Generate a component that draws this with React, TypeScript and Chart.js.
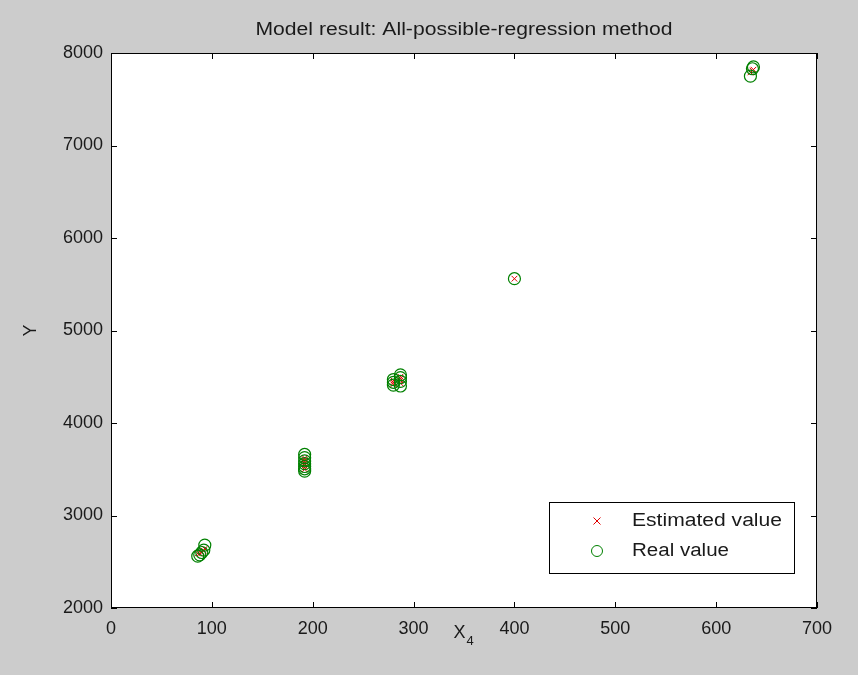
import React, { useEffect, useRef } from "react";
import { Chart, registerables } from "chart.js";

Chart.register(...registerables);

const TITLE = "Model result: All-possible-regression method";
const X_LABEL = "X";
const X_SUB = "4";
const Y_LABEL = "Y";
const LEGEND_LABELS = ["Estimated value", "Real value"];

const X_TICKS = [0, 100, 200, 300, 400, 500, 600, 700];
const Y_TICKS = [2000, 3000, 4000, 5000, 6000, 7000, 8000];

const realX = [86, 88, 90, 92, 93, 192, 192, 192, 192, 192, 192, 192, 280, 280, 280, 287, 287, 287, 287, 400, 634, 636, 637];
const realY = [2560, 2575, 2600, 2625, 2680, 3480, 3505, 3530, 3560, 3590, 3625, 3660, 4410, 4440, 4470, 4400, 4450, 4490, 4520, 5560, 7750, 7830, 7850];
const estX = [86, 88, 90, 92, 93, 192, 192, 192, 192, 192, 192, 192, 280, 280, 280, 287, 287, 287, 287, 400, 634, 636, 637];
const estY = [2590, 2590, 2600, 2620, 2640, 3500, 3520, 3540, 3560, 3580, 3600, 3620, 4420, 4440, 4460, 4430, 4460, 4480, 4500, 5560, 7790, 7810, 7820];

const FONT = "'Liberation Sans', Arial, sans-serif";
const BG = "#cccccc";
const TEXT = "#1a1a1a";

function fillFit(ctx: CanvasRenderingContext2D, text: string, x: number, y: number, target: number, align: "left" | "center") {
  const w = ctx.measureText(text).width;
  const sx = target / w;
  ctx.save();
  ctx.textAlign = "left";
  const left = align === "center" ? x - target / 2 : x;
  ctx.translate(left, y);
  ctx.scale(sx, 1);
  ctx.fillText(text, 0, 0);
  ctx.restore();
}

const overlay = {
  id: "matlabOverlay",
  beforeDraw(chart: any) {
    const { ctx, chartArea: a } = chart;
    ctx.save();
    ctx.fillStyle = BG;
    ctx.fillRect(0, 0, chart.width, chart.height);
    ctx.fillStyle = "#ffffff";
    ctx.fillRect(a.left, a.top, a.right - a.left, a.bottom - a.top);
    ctx.restore();
  },
  afterDraw(chart: any) {
    const { ctx, chartArea: a, scales } = chart;
    ctx.save();
    ctx.strokeStyle = "#000";
    ctx.lineWidth = 1;
    ctx.strokeRect(a.left + 0.5, a.top + 0.5, a.right - a.left - 1, a.bottom - a.top - 1);
    const tl = 6;
    ctx.beginPath();
    X_TICKS.forEach((v) => {
      const px = Math.round(scales.x.getPixelForValue(v)) + 0.5;
      ctx.moveTo(px, a.bottom);
      ctx.lineTo(px, a.bottom - tl);
      ctx.moveTo(px, a.top);
      ctx.lineTo(px, a.top + tl);
    });
    Y_TICKS.forEach((v) => {
      const py = Math.round(scales.y.getPixelForValue(v)) + 0.5;
      ctx.moveTo(a.left, py);
      ctx.lineTo(a.left + tl, py);
      ctx.moveTo(a.right, py);
      ctx.lineTo(a.right - tl, py);
    });
    ctx.stroke();

    // title
    ctx.fillStyle = TEXT;
    ctx.font = `18px ${FONT}`;
    ctx.textBaseline = "middle";
    fillFit(ctx, TITLE, (a.left + a.right) / 2, 30, 417, "center");

    // x label with subscript
    const cx = 463;
    ctx.font = `18px ${FONT}`;
    const wX = ctx.measureText(X_LABEL).width;
    ctx.font = `13px ${FONT}`;
    const wS = ctx.measureText(X_SUB).width;
    const start = cx - (wX + wS) / 2;
    ctx.textAlign = "left";
    ctx.font = `18px ${FONT}`;
    ctx.fillText(X_LABEL, start, 633);
    ctx.font = `13px ${FONT}`;
    ctx.fillText(X_SUB, start + wX + 1, 641);

    // y label
    ctx.save();
    ctx.translate(31, (a.top + a.bottom) / 2);
    ctx.rotate(-Math.PI / 2);
    ctx.textAlign = "center";
    ctx.font = `18px ${FONT}`;
    ctx.fillText(Y_LABEL, 0, 0);
    ctx.restore();

    // legend
    const lx = 549, ly = 502, lw = 245, lh = 71;
    ctx.fillStyle = "#fff";
    ctx.fillRect(lx, ly, lw, lh);
    ctx.strokeStyle = "#000";
    ctx.lineWidth = 1;
    ctx.strokeRect(lx + 0.5, ly + 0.5, lw, lh);
    const mx = 597;
    const y1 = 521, y2 = 551;
    ctx.strokeStyle = "#e00000";
    ctx.beginPath();
    ctx.moveTo(mx - 3.5, y1 - 3.5);
    ctx.lineTo(mx + 3.5, y1 + 3.5);
    ctx.moveTo(mx + 3.5, y1 - 3.5);
    ctx.lineTo(mx - 3.5, y1 + 3.5);
    ctx.stroke();
    ctx.strokeStyle = "#008000";
    ctx.beginPath();
    ctx.arc(mx, y2, 5.5, 0, Math.PI * 2);
    ctx.stroke();
    ctx.fillStyle = TEXT;
    ctx.font = `18px ${FONT}`;
    ctx.textBaseline = "middle";
    fillFit(ctx, LEGEND_LABELS[0], 632, y1, 150, "left");
    fillFit(ctx, LEGEND_LABELS[1], 632, y2, 97, "left");
    ctx.restore();
  },
};

export default function App() {
  const ref = useRef<HTMLCanvasElement | null>(null);
  useEffect(() => {
    if (!ref.current) return;
    const chart = new Chart(ref.current, {
      type: "scatter",
      data: {
        datasets: [
          {
            label: LEGEND_LABELS[1],
            data: realX.map((x, i) => ({ x, y: realY[i] })),
            pointStyle: "circle",
            pointRadius: 6,
            borderColor: "#008000",
            backgroundColor: "rgba(0,0,0,0)",
            borderWidth: 1.2,
          },
          {
            label: LEGEND_LABELS[0],
            data: estX.map((x, i) => ({ x, y: estY[i] })),
            pointStyle: "crossRot",
            pointRadius: 4,
            borderColor: "#e00000",
            backgroundColor: "#e00000",
            borderWidth: 1,
          },
        ],
      },
      options: {
        responsive: false,
        animation: false,
        layout: { padding: { left: 0, top: 53, right: 41, bottom: 0 } },
        plugins: { legend: { display: false }, title: { display: false }, tooltip: { enabled: false } },
        scales: {
          x: {
            type: "linear",
            min: 0,
            max: 700,
            afterFit: (s: any) => { s.height = 67; },
            afterBuildTicks: (s: any) => { s.ticks = X_TICKS.map((v) => ({ value: v })); },
            grid: { display: false, drawTicks: false },
            border: { display: false },
            ticks: { color: TEXT, font: { size: 18, family: FONT }, padding: 10, maxRotation: 0, callback: (v: any) => String(v) },
          },
          y: {
            type: "linear",
            min: 2000,
            max: 8000,
            afterFit: (s: any) => { s.width = 111; },
            afterBuildTicks: (s: any) => { s.ticks = Y_TICKS.map((v) => ({ value: v })); },
            grid: { display: false, drawTicks: false },
            border: { display: false },
            ticks: { color: TEXT, font: { size: 18, family: FONT }, padding: 8, callback: (v: any) => String(v) },
          },
        },
      },
      plugins: [overlay],
    } as any);
    return () => chart.destroy();
  }, []);
  return (
    <div style={{ position: "fixed", left: 0, top: 0, width: 858, height: 675, background: BG }}>
      <canvas ref={ref} width={858} height={675} style={{ display: "block" }} />
    </div>
  );
}
